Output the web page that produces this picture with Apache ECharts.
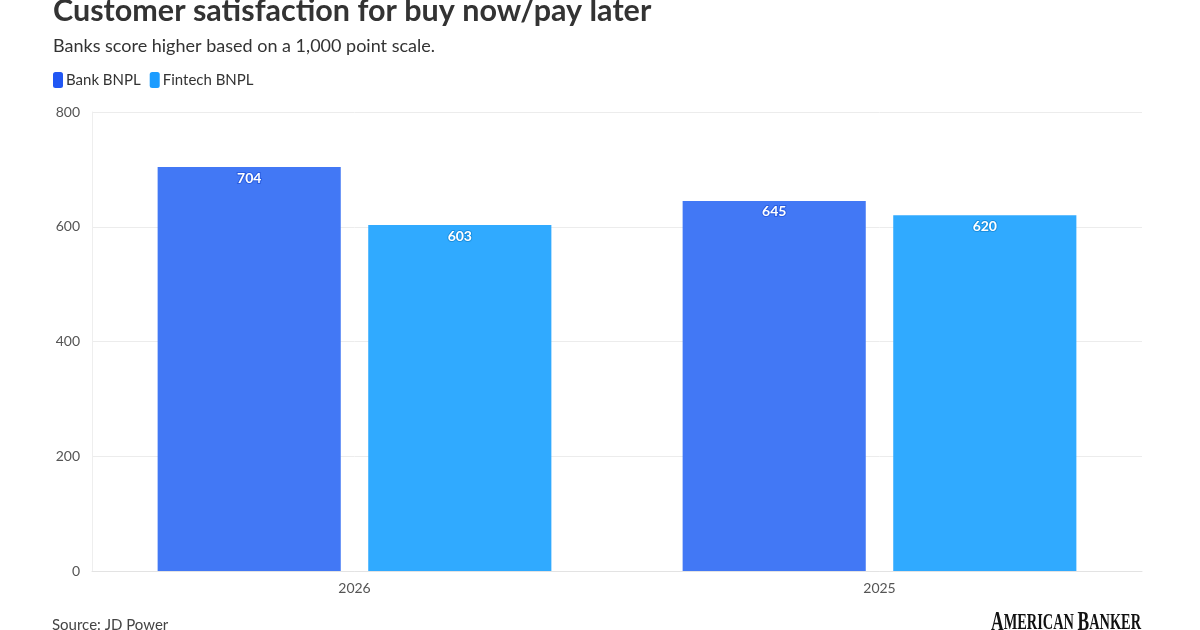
<!DOCTYPE html>
<html><head><meta charset="utf-8">
<script src="https://cdn.jsdelivr.net/npm/echarts@6/dist/echarts.min.js"></script>
<style>html,body{margin:0;padding:0;background:#fff}#c{width:1200px;height:630px}</style>
</head><body><div id="c"></div>
<script>
const categories = ['2026', '2025'];
const bankBNPL = [704, 645];
const fintechBNPL = [603, 620];
const yTicks = [0, 200, 400, 600, 800];

const chart = echarts.init(document.getElementById('c'), null, {renderer: 'canvas'});
const FONT = 'Lato, "Noto Sans", sans-serif';
const SERIF = '"Liberation Serif", "DejaVu Serif", serif';
const labelCfg = (border) => ({
  show: true, position: 'insideTop', distance: 4,
  color: '#fff', fontFamily: FONT, fontWeight: 'bold', fontSize: 14,
  textBorderColor: border, textBorderWidth: 2
});
chart.setOption({
  animation: false,
  backgroundColor: '#fff',
  title: [{
    text: 'Customer satisfaction for buy now/pay later',
    left: 48, top: -9,
    textStyle: {fontFamily: FONT, fontWeight: 'bold', fontSize: 30.5, color: '#333'}
  }, {
    text: 'Banks score higher based on a 1,000 point scale.',
    left: 48, top: 32,
    textStyle: {fontFamily: FONT, fontWeight: 'normal', fontSize: 18, color: '#333'}
  }],
  legend: {
    left: 48, top: 67, itemWidth: 10, itemHeight: 16, itemGap: 9,
    icon: 'roundRect',
    textStyle: {fontFamily: FONT, fontSize: 15, color: '#333', padding: [0, 0, 0, -2]},
    data: [
      {name: 'Bank BNPL', itemStyle: {color: '#2157f4'}},
      {name: 'Fintech BNPL', itemStyle: {color: '#1c9cff'}}
    ]
  },
  grid: {left: 92, right: 58, top: 112, bottom: 59, containLabel: false},
  xAxis: {
    type: 'category', data: categories,
    axisLine: {show: true, lineStyle: {color: '#e3e3e3'}},
    axisTick: {show: false},
    axisLabel: {fontFamily: FONT, fontSize: 14, color: '#555', margin: 10}
  },
  yAxis: {
    type: 'value', min: yTicks[0], max: yTicks[yTicks.length - 1], interval: 200,
    axisLine: {show: true, lineStyle: {color: '#eeeeee'}},
    axisTick: {show: false},
    splitLine: {lineStyle: {color: '#ececec'}},
    axisLabel: {fontFamily: FONT, fontSize: 14, color: '#555', margin: 12}
  },
  series: [{
    name: 'Bank BNPL', type: 'bar', data: bankBNPL,
    barCategoryGap: '25%', barGap: '15%',
    itemStyle: {color: '#4278f5'},
    label: labelCfg('#2a5ee0')
  }, {
    name: 'Fintech BNPL', type: 'bar', data: fintechBNPL,
    barCategoryGap: '25%', barGap: '15%',
    itemStyle: {color: '#30aaff'},
    label: labelCfg('#1a8fe0')
  }],
  graphic: [{
    type: 'text', left: 52, top: 618,
    style: {text: 'Source: JD Power', fontFamily: FONT, fontSize: 15, fill: '#444'}
  }, {
    type: 'text', x: 991, y: 609, scaleX: 0.625, scaleY: 1,
    style: {
      text: '{a|A}{b|MERICAN }{a|B}{b|ANKER}',
      rich: {
        a: {fontFamily: SERIF, fontWeight: 'bold', fontSize: 28, fill: '#111'},
        b: {fontFamily: SERIF, fontWeight: 'bold', fontSize: 23, fill: '#111'}
      }
    }
  }]
});
</script></body></html>
